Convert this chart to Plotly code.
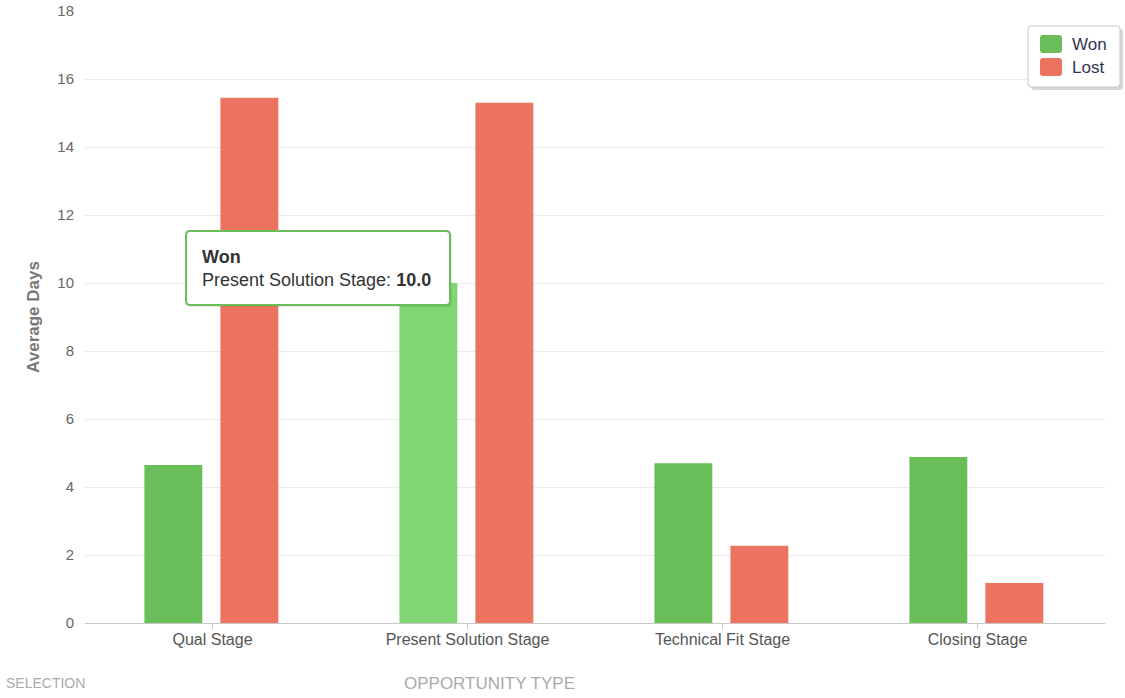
import plotly.graph_objects as go

categories = ["Qual Stage", "Present Solution Stage", "Technical Fit Stage", "Closing Stage"]
won_values = [4.65, 10.0, 4.7, 4.88]
lost_values = [15.45, 15.3, 2.27, 1.18]
y_ticks = [0, 2, 4, 6, 8, 10, 12, 14, 16, 18]
series_names = ["Won", "Lost"]

GREEN = "#6abe59"
GREEN_HOVER = "#80d672"
RED = "#ec7360"
FONT = "Liberation Sans, Arial, sans-serif"

L, R, T, B = 85, 20, 11, 75
W, H = 1125, 698
PW, PH = W - L - R, H - T - B


def px(x):
    return (x - L) / PW


def py(y):
    return (H - B - y) / PH


won_colors = [GREEN_HOVER if c == "Present Solution Stage" else GREEN for c in categories]

fig = go.Figure()
fig.add_trace(go.Bar(
    name=series_names[0], x=categories, y=won_values,
    marker=dict(color=won_colors, line=dict(width=0)),
    width=0.227, offset=-0.267, showlegend=False,
))
fig.add_trace(go.Bar(
    name=series_names[1], x=categories, y=lost_values,
    marker=dict(color=RED, line=dict(width=0)),
    width=0.227, offset=0.031, showlegend=False,
))

fig.update_layout(
    width=W, height=H,
    margin=dict(l=L, r=R, t=T, b=B, autoexpand=False),
    paper_bgcolor="white", plot_bgcolor="white",
    font=dict(family=FONT, size=15, color="#555555"),
    showlegend=False,
    xaxis=dict(
        showgrid=False, showline=True, linecolor="#c8c8c8", linewidth=1,
        ticks="outside", ticklen=5, tickcolor="#c8c8c8",
        tickfont=dict(size=16, color="#555555"),
        ticklabelstandoff=-3,
        range=[-0.5, 3.5], automargin=False,
    ),
    yaxis=dict(
        range=[0, 18], tickvals=y_ticks,
        showgrid=True, gridcolor="#ececec", gridwidth=1,
        zeroline=False, showline=False,
        tickfont=dict(size=15, color="#666666"),
        ticklabelstandoff=10, automargin=False,
        title=dict(text="<b>Average Days</b>", font=dict(size=17, color="#777777"), standoff=13),
    ),
)


def rounded_rect(x0, y0, x1, y1, r):
    return (
        f"M {px(x0 + r)},{py(y0)} L {px(x1 - r)},{py(y0)} "
        f"Q {px(x1)},{py(y0)} {px(x1)},{py(y0 + r)} "
        f"L {px(x1)},{py(y1 - r)} Q {px(x1)},{py(y1)} {px(x1 - r)},{py(y1)} "
        f"L {px(x0 + r)},{py(y1)} Q {px(x0)},{py(y1)} {px(x0)},{py(y1 - r)} "
        f"L {px(x0)},{py(y0 + r)} Q {px(x0)},{py(y0)} {px(x0 + r)},{py(y0)} Z"
    )


# ---- custom legend ----
fig.add_shape(type="path", xref="paper", yref="paper",
              path=rounded_rect(1031, 29, 1123, 90, 3),
              fillcolor="#d8d8d8", line=dict(width=0), layer="above")
fig.add_shape(type="path", xref="paper", yref="paper",
              path=rounded_rect(1028, 26, 1120, 87, 3),
              fillcolor="white", line=dict(color="#c8c8c8", width=1), layer="above")
legend_colors = [GREEN, RED]
for i, (name, col) in enumerate(zip(series_names, legend_colors)):
    y0 = 35 + i * 23
    fig.add_shape(type="path", xref="paper", yref="paper",
                  path=rounded_rect(1040, y0, 1062, y0 + 18, 3),
                  fillcolor=col, line=dict(width=0), layer="above")
    fig.add_annotation(xref="paper", yref="paper", x=px(1070), y=py(y0 + 9),
                       xanchor="left", yanchor="middle", showarrow=False,
                       text=name, font=dict(family=FONT, size=17, color="#333355"))

# ---- tooltip ----
fig.add_shape(type="path", xref="paper", yref="paper",
              path=rounded_rect(188, 233, 452, 307, 4),
              fillcolor="rgba(0,0,0,0.08)", line=dict(width=0), layer="above")
fig.add_shape(type="path", xref="paper", yref="paper",
              path=rounded_rect(186, 231, 450, 305, 4),
              fillcolor="white", line=dict(color=GREEN, width=2), layer="above")
fig.add_annotation(
    xref="paper", yref="paper", x=px(200), y=py(269),
    xanchor="left", yanchor="middle", align="left",
    text="<b>Won</b><br>Present Solution Stage: <b>10.0</b>",
    font=dict(family=FONT, size=18, color="#333333"),
    showarrow=False,
)

# ---- bottom page labels ----
fig.add_annotation(xref="paper", yref="paper", x=px(4), y=py(683),
                   xanchor="left", yanchor="middle", showarrow=False,
                   text="SELECTION", font=dict(family=FONT, size=14, color="#aaaaaa"))
fig.add_annotation(xref="paper", yref="paper", x=px(402), y=py(683),
                   xanchor="left", yanchor="middle", showarrow=False,
                   text="OPPORTUNITY TYPE", font=dict(family=FONT, size=17, color="#aaaaaa"))

fig.write_html("out.html")
